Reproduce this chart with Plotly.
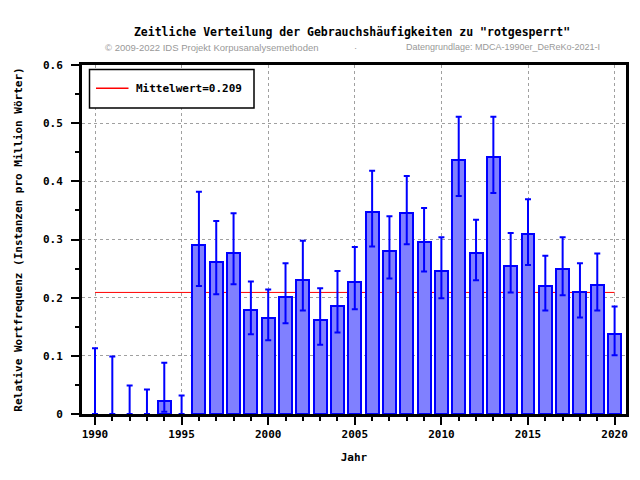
import plotly.graph_objects as go

years = list(range(1990, 2021))
values = [0, 0, 0, 0, 0.023, 0,
          0.290, 0.261, 0.277, 0.179, 0.165, 0.201, 0.230, 0.161, 0.186, 0.227,
          0.348, 0.280, 0.346, 0.296, 0.246, 0.437, 0.277, 0.442, 0.254, 0.310,
          0.220, 0.249, 0.210, 0.222, 0.137]
upper = [0.113, 0.099, 0.049, 0.042, 0.088, 0.032,
         0.382, 0.332, 0.345, 0.228, 0.214, 0.259, 0.298, 0.216, 0.246, 0.287,
         0.418, 0.340, 0.409, 0.354, 0.304, 0.511, 0.334, 0.511, 0.311, 0.369,
         0.272, 0.304, 0.259, 0.276, 0.185]
lower = [0, 0, 0, 0, 0.004, 0,
         0.220, 0.206, 0.223, 0.137, 0.127, 0.156, 0.178, 0.119, 0.140, 0.180,
         0.288, 0.233, 0.292, 0.245, 0.199, 0.375, 0.230, 0.380, 0.209, 0.256,
         0.178, 0.204, 0.166, 0.178, 0.101]
mean_value = 0.209

title = 'Zeitliche Verteilung der Gebrauchshäufigkeiten zu "rotgesperrt"'
sub_left = "© 2009-2022 IDS Projekt Korpusanalysemethoden"
sub_mid = "·"
sub_right = "Datengrundlage: MDCA-1990er_DeReKo-2021-I"
x_title = "Jahr"
y_title = "Relative Wortfrequenz (Instanzen pro Million Wörter)"
legend_text = "Mittelwert=0.209"

W, H = 640, 480
ML, MR, MT, MB = 82, 14, 65, 66
PW, PH = W - ML - MR, H - MT - MB

def px(x):
    return (x - ML) / PW

def py(y):
    return (H - MB - y) / PH

MONO = "DejaVu Sans Mono"
fnt = dict(family=MONO, size=11, color="black", weight="bold")
title_fnt = dict(family=MONO, size=11.5, color="black", weight="bold")

err_plus = [u - v for u, v in zip(upper, values)]
err_minus = [v - l for v, l in zip(values, lower)]
bar_line_widths = [2 if v > 0 else 0 for v in values]

fig = go.Figure()
fig.add_trace(go.Bar(
    x=years, y=values, width=0.75,
    marker=dict(color="#8080ff", line=dict(color="#0000ff", width=bar_line_widths)),
    error_y=dict(type="data", symmetric=False, array=err_plus, arrayminus=err_minus,
                 color="#0000ff", thickness=2, width=3),
    showlegend=False, hoverinfo="x+y",
))

fig.add_shape(type="line", xref="x", yref="y", x0=years[0], x1=years[-1],
              y0=mean_value, y1=mean_value, layer="below",
              line=dict(color="#ff0000", width=1))

# legend box
fig.add_shape(type="rect", xref="paper", yref="paper",
              x0=px(89.5), x1=px(254), y0=py(108), y1=py(69.5),
              line=dict(color="black", width=1.5), fillcolor="white", layer="above")
fig.add_shape(type="line", xref="paper", yref="paper",
              x0=px(96), x1=px(128.5), y0=py(88.3), y1=py(88.3),
              line=dict(color="#ff0000", width=1.5), layer="above")
fig.add_annotation(text=legend_text, xref="paper", yref="paper", x=px(134), y=py(88.3),
                   xanchor="left", yanchor="middle", showarrow=False, font=fnt)

# subtitle
sub_font = dict(family="Liberation Sans, Arial", size=9.5, color="#999999")
sub_font_r = dict(family="Liberation Sans, Arial", size=9, color="#999999")
fig.add_annotation(text=sub_left, xref="paper", yref="paper", x=px(102.5), y=py(47),
                   xanchor="left", yanchor="middle", showarrow=False, font=sub_font)
fig.add_annotation(text=sub_mid, xref="paper", yref="paper", x=px(355), y=py(47),
                   xanchor="center", yanchor="middle", showarrow=False, font=sub_font)
fig.add_annotation(text=sub_right, xref="paper", yref="paper", x=px(404), y=py(47),
                   xanchor="left", yanchor="middle", showarrow=False, font=sub_font_r)

x0 = 1990 - 13 / 17.32
x1 = x0 + PW / 17.32

axis_common = dict(
    showline=True, linecolor="black", linewidth=3, mirror=True,
    ticks="outside", ticklen=8, tickwidth=2, tickcolor="black",
    showgrid=True, gridcolor="#a0a0a0", gridwidth=1, griddash="dot",
    zeroline=False, tickfont=fnt,
)

fig.update_layout(
    width=W, height=H,
    margin=dict(l=ML, r=MR, t=MT, b=MB, pad=0),
    paper_bgcolor="white", plot_bgcolor="white",
    title=dict(text=title, font=title_fnt, xref="container", yref="container",
               x=352 / W, y=1 - 32 / H, xanchor="center", yanchor="middle"),
    bargap=0,
    xaxis=dict(range=[x0, x1], tickmode="linear", tick0=1990, dtick=5,
               minor=dict(ticks="outside", ticklen=4, tickwidth=2, tickcolor="black",
                          dtick=1, tick0=1990, showgrid=False),
               title=dict(text=x_title, font=fnt, standoff=14),
               **axis_common),
    yaxis=dict(range=[0, 0.6], tickmode="linear", tick0=0, dtick=0.1,
               minor=dict(ticks="outside", ticklen=4, tickwidth=2, tickcolor="black",
                          dtick=0.05, tick0=0, showgrid=False),
               ticklabelstandoff=6,
               title=dict(text=y_title, font=fnt, standoff=19),
               **axis_common),
)

fig.write_html("out.html")
